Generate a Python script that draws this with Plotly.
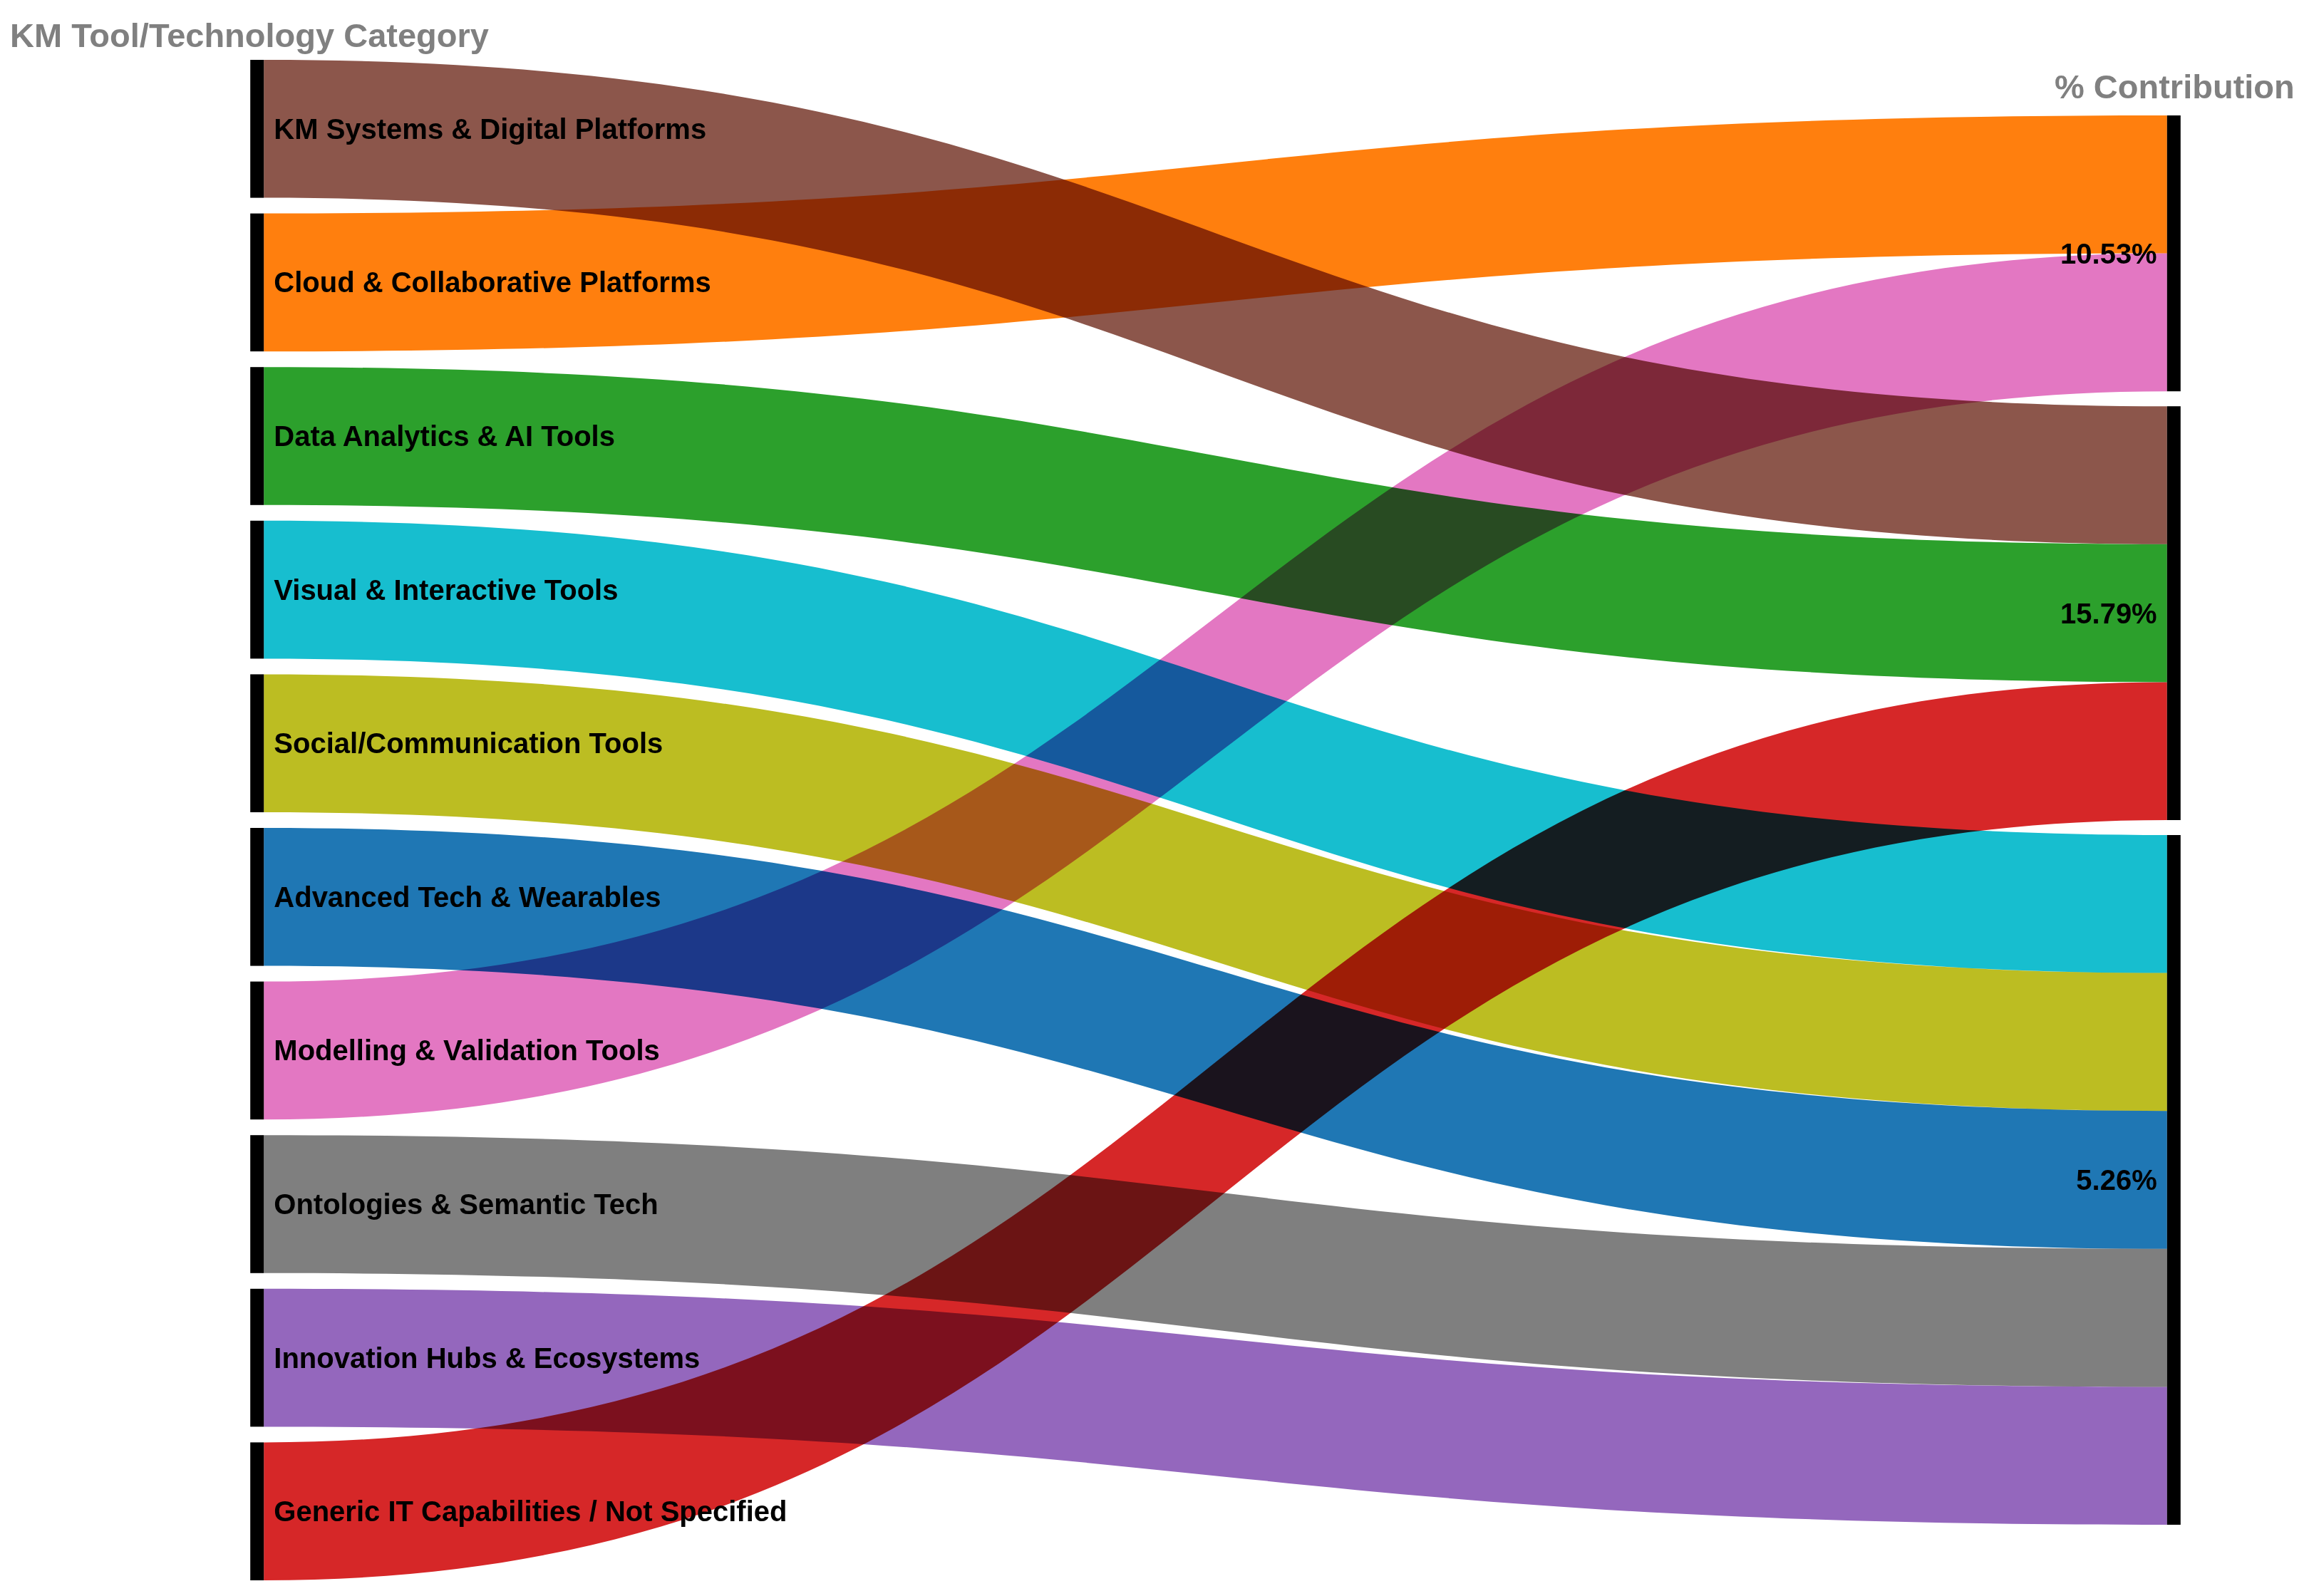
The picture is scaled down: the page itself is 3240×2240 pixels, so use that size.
import plotly.graph_objects as go

# ---- data ----
categories = [
    "KM Systems & Digital Platforms",
    "Cloud & Collaborative Platforms",
    "Data Analytics & AI Tools",
    "Visual & Interactive Tools",
    "Social/Communication Tools",
    "Advanced Tech & Wearables",
    "Modelling & Validation Tools",
    "Ontologies & Semantic Tech",
    "Innovation Hubs & Ecosystems",
    "Generic IT Capabilities / Not Specified",
]
contribution = [
    "15.79%", "10.53%", "15.79%", "5.26%", "5.26%",
    "5.26%", "10.53%", "5.26%", "5.26%", "15.79%",
]
contribution_levels = ["10.53%", "15.79%", "5.26%"]
flow_values = [1, 1, 1, 1, 1, 1, 1, 1, 1, 1]
link_colors = [
    "#8c564b", "#ff7f0e", "#2ca02c", "#17becf", "#bcbd22",
    "#1f77b4", "#e377c2", "#7f7f7f", "#9467bd", "#d62728",
]
left_title = "KM Tool/Technology Category"
right_title = "% Contribution"

# ---- build sankey ----
NB = "\u00a0"  # small visual gap between node bar and its label
labels = [NB + c for c in categories] + [lvl + NB for lvl in contribution_levels]
source = list(range(len(categories)))
target = [len(categories) + contribution_levels.index(c) for c in contribution]

W, H = 3240, 2240
ML, MR, MT, MB = 350, 195, 76, 30
PW, PH = W - ML - MR, H - MT - MB
PAD_L = 22
PAD_R = 21

# node order in each column follows the data order; the vertical stacking
# is derived from the flow totals (same scale Plotly uses)
left_tot = [v for v in flow_values]
right_tot = [sum(v for v, c in zip(flow_values, contribution) if c == lvl)
             for lvl in contribution_levels]
ky = (PH - (len(left_tot) - 1) * PAD_L) / sum(left_tot)

def stack_centers(totals, pad):
    heights = [t * ky for t in totals]
    span = sum(heights) + pad * (len(heights) - 1)
    y = (PH - span) / 2
    out = []
    for h in heights:
        out.append((y + h / 2) / PH)
        y += h + pad
    return out

node_x = [0.001] * len(categories) + [0.999] * len(contribution_levels)
node_y = stack_centers(left_tot, PAD_L) + stack_centers(right_tot, PAD_R)

fig = go.Figure(go.Sankey(
    arrangement="fixed",
    node=dict(
        label=labels,
        x=node_x,
        y=node_y,
        color="#000000",
        thickness=19,
        pad=PAD_L,
        line=dict(width=0),
    ),
    link=dict(
        source=source,
        target=target,
        value=flow_values,
        color=link_colors,
        line=dict(width=0),
    ),
    textfont=dict(family="Liberation Sans, Arial, sans-serif", size=40,
                  color="#000000", weight="bold", shadow="none"),
    hoverinfo="none",
))

def px_x(p):
    return (p - ML) / PW

def px_y(p):
    return 1 - (p - MT) / PH

fig.update_layout(
    width=W, height=H,
    margin=dict(l=ML, r=MR, t=MT, b=MB),
    paper_bgcolor="white",
    plot_bgcolor="white",
    font=dict(family="Liberation Sans, Arial, sans-serif"),
    annotations=[
        dict(text=left_title, xref="paper", yref="paper",
             x=px_x(4), y=px_y(42), xanchor="left", yanchor="middle",
             showarrow=False,
             font=dict(size=47, color="#808080", weight="bold",
                       family="Liberation Sans, Arial, sans-serif")),
        dict(text=right_title, xref="paper", yref="paper",
             x=px_x(3214), y=px_y(114), xanchor="right", yanchor="middle",
             showarrow=False,
             font=dict(size=47, color="#808080", weight="bold",
                       family="Liberation Sans, Arial, sans-serif")),
    ],
)

post = (
    "var s=document.createElement('style');"
    "s.textContent='.sankey-link{mix-blend-mode:multiply;}';"
    "document.head.appendChild(s);"
)
fig.write_html("out.html", post_script=post)
